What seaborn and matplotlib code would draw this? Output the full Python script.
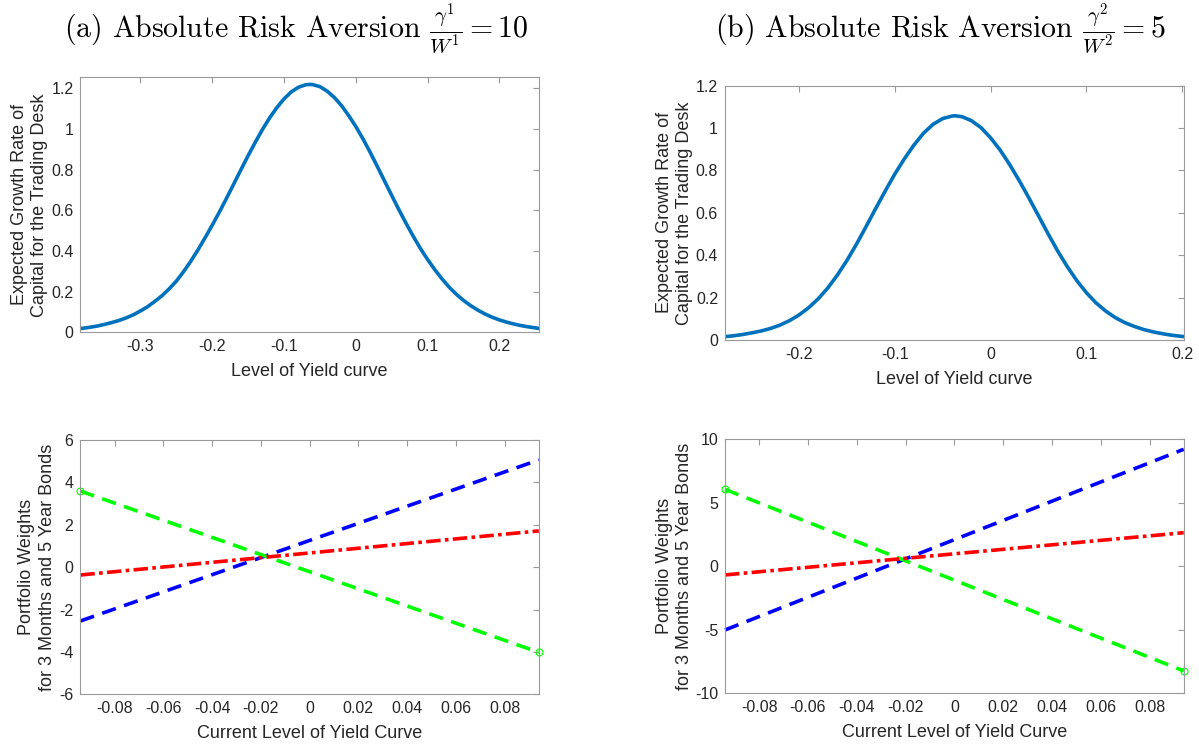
import numpy as np
import pandas as pd
import matplotlib
matplotlib.use("Agg")
import matplotlib.pyplot as plt
import seaborn as sns

# ---------------- data ----------------
# (a) top: expected growth rate vs level of yield curve
a_level = [-0.3837, -0.38, -0.37, -0.36, -0.35, -0.34, -0.33, -0.32, -0.31, -0.30,
           -0.29, -0.28, -0.27, -0.26, -0.25, -0.24, -0.23, -0.22, -0.21, -0.20,
           -0.19, -0.18, -0.17, -0.16, -0.15, -0.14, -0.13, -0.12, -0.11, -0.10,
           -0.09, -0.08, -0.07, -0.064, -0.06, -0.05, -0.04, -0.03, -0.02, -0.01,
           0.00, 0.01, 0.02, 0.03, 0.04, 0.05, 0.06, 0.07, 0.08, 0.09,
           0.10, 0.11, 0.12, 0.13, 0.14, 0.15, 0.16, 0.17, 0.18, 0.19,
           0.20, 0.21, 0.22, 0.23, 0.24, 0.2549]
a_growth = [0.018, 0.020, 0.025, 0.031, 0.039, 0.048, 0.058, 0.071, 0.086, 0.105,
            0.126, 0.152, 0.180, 0.214, 0.252, 0.298, 0.349, 0.405, 0.465, 0.527,
            0.592, 0.660, 0.730, 0.800, 0.869, 0.935, 0.998, 1.055, 1.105, 1.148,
            1.182, 1.205, 1.217, 1.219, 1.218, 1.208, 1.186, 1.155, 1.115, 1.066,
            1.012, 0.951, 0.885, 0.815, 0.744, 0.673, 0.603, 0.536, 0.472, 0.412,
            0.358, 0.308, 0.263, 0.222, 0.187, 0.157, 0.131, 0.109, 0.090, 0.074,
            0.061, 0.050, 0.041, 0.033, 0.027, 0.019]

# (b) top
b_level = [-0.2772, -0.27, -0.26, -0.25, -0.24, -0.23, -0.22, -0.21, -0.20,
           -0.19, -0.18, -0.17, -0.16, -0.15, -0.14, -0.13, -0.12, -0.11, -0.10,
           -0.09, -0.08, -0.07, -0.06, -0.05, -0.04, -0.037, -0.03, -0.02, -0.01,
           0.00, 0.01, 0.02, 0.03, 0.04, 0.05, 0.06, 0.07, 0.08, 0.09,
           0.10, 0.11, 0.12, 0.13, 0.14, 0.15, 0.16, 0.17, 0.18, 0.19, 0.2015]
b_growth = [0.016, 0.019, 0.025, 0.033, 0.042, 0.054, 0.070, 0.091, 0.118,
            0.152, 0.194, 0.245, 0.306, 0.375, 0.452, 0.535, 0.620, 0.703, 0.783,
            0.855, 0.920, 0.976, 1.018, 1.045, 1.057, 1.058, 1.054, 1.035, 1.002,
            0.954, 0.896, 0.827, 0.751, 0.670, 0.586, 0.501, 0.420, 0.346, 0.280,
            0.223, 0.175, 0.137, 0.106, 0.082, 0.064, 0.049, 0.038, 0.029, 0.022, 0.016]

# bottom: portfolio weights (straight lines, endpoints)
w_level = [-0.094, 0.094]
a_green = [3.59, -4.02]
a_blue = [-2.54, 5.06]
a_red = [-0.37, 1.71]
b_green = [6.04, -8.24]
b_blue = [-5.02, 9.19]
b_red = [-0.69, 2.63]

# ticks
a_top_xticks = [-0.3, -0.2, -0.1, 0, 0.1, 0.2]
a_top_xlabels = ["-0.3", "-0.2", "-0.1", "0", "0.1", "0.2"]
b_top_xticks = [-0.2, -0.1, 0, 0.1, 0.2]
b_top_xlabels = ["-0.2", "-0.1", "0", "0.1", "0.2"]
top_yticks = [0, 0.2, 0.4, 0.6, 0.8, 1.0, 1.2]
top_ylabels = ["0", "0.2", "0.4", "0.6", "0.8", "1", "1.2"]
bot_xticks = [-0.08, -0.06, -0.04, -0.02, 0, 0.02, 0.04, 0.06, 0.08]
bot_xlabels = ["-0.08", "-0.06", "-0.04", "-0.02", "0", "0.02", "0.04", "0.06", "0.08"]
a_bot_yticks = [-6, -4, -2, 0, 2, 4, 6]
a_bot_ylabels = ["-6", "-4", "-2", "0", "2", "4", "6"]
b_bot_yticks = [-10, -5, 0, 5, 10]
b_bot_ylabels = ["-10", "-5", "0", "5", "10"]

titles = [r"(a) Absolute Risk Aversion $\frac{\gamma^1}{W^1} = 10$",
          r"(b) Absolute Risk Aversion $\frac{\gamma^2}{W^2} = 5$"]
top_ylabel = "Expected Growth Rate of\nCapital for the Trading Desk"
top_xlabel = "Level of Yield curve"
bot_ylabel = "Portfolio Weights\nfor 3 Months and 5 Year Bonds"
bot_xlabel = "Current Level of Yield Curve"

# ---------------- styling ----------------
sns.set_style("white")
plt.rcParams["font.family"] = ["Liberation Sans", "DejaVu Sans"]
plt.rcParams["mathtext.fontset"] = "cm"
plt.rcParams["axes.unicode_minus"] = False

TXT = "#262626"
SPINE = "#9a9a9a"
CURVE = "#0072BD"

fig = plt.figure(figsize=(11.99, 7.48), dpi=100)
W, H = 1199.0, 748.0


def add_ax(x0, x1, y0, y1):
    return fig.add_axes([x0 / W, 1 - y1 / H, (x1 - x0) / W, (y1 - y0) / H])


ax_tl = add_ax(80.4, 538.8, 77.3, 332.3)
ax_bl = add_ax(80.4, 538.8, 440.0, 694.3)
ax_tr = add_ax(725.0, 1183.7, 85.7, 340.0)
ax_br = add_ax(725.0, 1183.7, 439.0, 693.3)


def style(ax, xticks, xlabels, yticks, ylabels, xlabel, ylabel, ylab_x):
    ax.set_xticks(xticks)
    ax.set_xticklabels(xlabels)
    ax.set_yticks(yticks)
    ax.set_yticklabels(ylabels)
    ax.tick_params(direction="in", top=True, right=True, length=4, width=0.8,
                   color=SPINE, labelcolor=TXT, labelsize=11.5, pad=5)
    for s in ax.spines.values():
        s.set_visible(True)
        s.set_color(SPINE)
        s.set_linewidth(0.8)
    ax.set_xlabel(xlabel, fontsize=13, color=TXT)
    ax.set_ylabel(ylabel, fontsize=13, color=TXT, linespacing=1.25)
    ax.xaxis.set_label_coords(0.5, -0.122)
    ax.yaxis.set_label_coords(ylab_x, 0.5)
    ax.grid(False)


# top curves
df_a = pd.DataFrame({"x": a_level, "y": a_growth})
sns.lineplot(data=df_a, x="x", y="y", ax=ax_tl, color=CURVE, linewidth=2.6,
             sort=False, estimator=None)
ax_tl.set_xlim(a_level[0], a_level[-1])
ax_tl.set_ylim(0, 1.254)
style(ax_tl, a_top_xticks, a_top_xlabels, top_yticks, top_ylabels,
      top_xlabel, top_ylabel, -0.071)

df_b = pd.DataFrame({"x": b_level, "y": b_growth})
sns.lineplot(data=df_b, x="x", y="y", ax=ax_tr, color=CURVE, linewidth=2.6,
             sort=False, estimator=None)
ax_tr.set_xlim(b_level[0], b_level[-1])
ax_tr.set_ylim(0, 1.2)
style(ax_tr, b_top_xticks, b_top_xlabels, top_yticks, top_ylabels,
      top_xlabel, top_ylabel, -0.070)


def weights(ax, green, blue, red):
    sns.lineplot(x=w_level, y=blue, ax=ax, color=(0, 0, 1), linewidth=2.6,
                 linestyle=(0, (4.0, 2.4)), sort=False, estimator=None)
    sns.lineplot(x=w_level, y=green, ax=ax, color=(0, 1, 0), linewidth=2.6,
                 linestyle=(0, (4.0, 2.4)), sort=False, estimator=None,
                 marker="o", markersize=5, markerfacecolor="none",
                 markeredgecolor=(0, 1, 0), markeredgewidth=0.8)
    sns.lineplot(x=w_level, y=red, ax=ax, color=(1, 0, 0), linewidth=2.6,
                 linestyle=(0, (4.0, 1.2, 1.0, 1.2)), sort=False, estimator=None)
    ax.set_xlim(w_level[0], w_level[-1])


weights(ax_bl, a_green, a_blue, a_red)
ax_bl.set_ylim(-6, 6)
style(ax_bl, bot_xticks, bot_xlabels, a_bot_yticks, a_bot_ylabels,
      bot_xlabel, bot_ylabel, -0.054)
for ln in ax_bl.lines:
    ln.set_clip_on(False)

weights(ax_br, b_green, b_blue, b_red)
ax_br.set_ylim(-10, 10)
style(ax_br, bot_xticks, bot_xlabels, b_bot_yticks, b_bot_ylabels,
      bot_xlabel, bot_ylabel, -0.070)
for ln in ax_br.lines:
    ln.set_clip_on(False)

# titles
fig.text(296 / W, 1 - 37 / H, titles[0], ha="center", va="baseline",
         fontsize=21.5, family="cmr10", color="black")
fig.text(940 / W, 1 - 37 / H, titles[1], ha="center", va="baseline",
         fontsize=21.5, family="cmr10", color="black")

fig.savefig("out.png", dpi=100)
